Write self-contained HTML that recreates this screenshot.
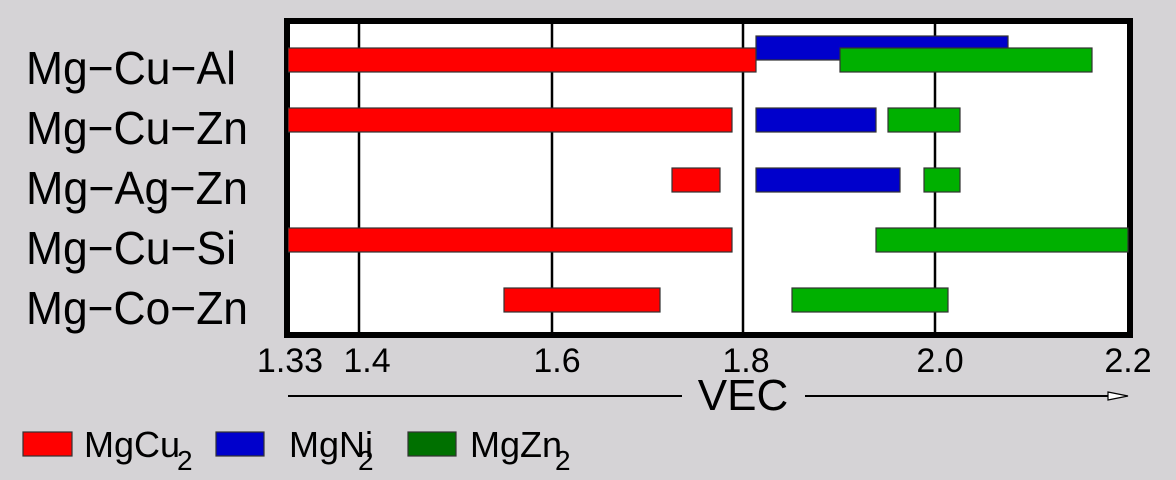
<!DOCTYPE html>
<html><head><style>
body{margin:0;background:#d5d3d6;}
svg{display:block;font-family:"Liberation Sans",sans-serif;}
</style></head><body>
<svg width="1176" height="480" viewBox="0 0 1176 480">
<rect width="1176" height="480" fill="#d5d3d6"/>
<rect x="288" y="22" width="841" height="312" fill="#fff" stroke="#000" stroke-width="4"/>
<g stroke="#000" stroke-width="2.5">
<line x1="359" y1="22" x2="359" y2="334"/>
<line x1="552" y1="22" x2="552" y2="334"/>
<line x1="743" y1="22" x2="743" y2="334"/>
<line x1="935" y1="22" x2="935" y2="334"/>
</g>
<g stroke="#333" stroke-width="1.2">
<rect x="756" y="36" width="252" height="24" fill="#0000cc"/>
<rect x="288" y="48" width="468" height="24" fill="#ff0000"/>
<rect x="840" y="48" width="252" height="24" fill="#00b000"/>
<rect x="288" y="108" width="444" height="24" fill="#ff0000"/>
<rect x="756" y="108" width="120" height="24" fill="#0000cc"/>
<rect x="888" y="108" width="72" height="24" fill="#00b000"/>
<rect x="672" y="168" width="48" height="24" fill="#ff0000"/>
<rect x="756" y="168" width="144" height="24" fill="#0000cc"/>
<rect x="924" y="168" width="36" height="24" fill="#00b000"/>
<rect x="288" y="228" width="444" height="24" fill="#ff0000"/>
<rect x="876" y="228" width="252" height="24" fill="#00b000"/>
<rect x="504" y="288" width="156" height="24" fill="#ff0000"/>
<rect x="792" y="288" width="156" height="24" fill="#00b000"/>
</g>
<rect x="286" y="20" width="845" height="316" fill="none" stroke="#000" stroke-width="4"/>
<g font-size="46" fill="#000" lengthAdjust="spacingAndGlyphs">
<text x="26" y="84" textLength="210" lengthAdjust="spacingAndGlyphs">Mg−Cu−Al</text>
<text x="26" y="144" textLength="222" lengthAdjust="spacingAndGlyphs">Mg−Cu−Zn</text>
<text x="26" y="204" textLength="222" lengthAdjust="spacingAndGlyphs">Mg−Ag−Zn</text>
<text x="26" y="264" textLength="210" lengthAdjust="spacingAndGlyphs">Mg−Cu−Si</text>
<text x="26" y="324" textLength="222" lengthAdjust="spacingAndGlyphs">Mg−Co−Zn</text>
</g>
<g font-size="34" fill="#000" text-anchor="middle">
<text x="290" y="372">1.33</text>
<text x="367" y="372">1.4</text>
<text x="557" y="372">1.6</text>
<text x="746" y="372">1.8</text>
<text x="940" y="372">2.0</text>
<text x="1128" y="372">2.2</text>
</g>
<line x1="288" y1="396" x2="682" y2="396" stroke="#000" stroke-width="2"/>
<line x1="805" y1="396" x2="1112" y2="396" stroke="#000" stroke-width="2"/>
<polygon points="1108,392 1128,396 1108,400" fill="#fff" stroke="#000" stroke-width="1.2"/>
<text x="743" y="410" font-size="44" text-anchor="middle">VEC</text>
<g stroke="#333" stroke-width="1.2">
<rect x="23" y="432" width="49" height="24" fill="#ff0000"/>
<rect x="216" y="432" width="48" height="24" fill="#0000cc"/>
<rect x="408" y="432" width="48" height="24" fill="#007000"/>
</g>
<g font-size="36" fill="#000">
<text x="84" y="457">MgCu</text><text x="177" y="470" font-size="28">2</text>
<text x="289" y="457">MgNi</text><text x="358" y="470" font-size="28">2</text>
<text x="470" y="457">MgZn</text><text x="555" y="470" font-size="28">2</text>
</g>
</svg>
</body></html>
